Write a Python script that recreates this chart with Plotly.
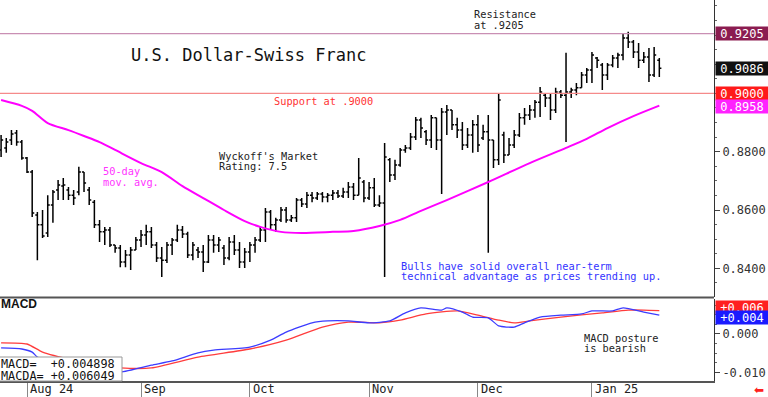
import math
import plotly.graph_objects as go

# ---------------- data ----------------
bar_index = list(range(128))  # trading days from late Jul 2024 to 20 Jan 2025

highs = [0.8857,0.8847,0.8874,0.8874,0.8840,0.8782,0.8737,0.8593,0.8600,0.8651,
         0.8669,0.8703,0.8710,0.8679,0.8669,0.8748,0.8730,0.8679,0.8634,0.8566,
         0.8542,0.8542,0.8480,0.8480,0.8463,0.8473,0.8507,0.8531,0.8549,0.8542,
         0.8490,0.8473,0.8490,0.8504,0.8549,0.8545,0.8525,0.8490,0.8473,0.8480,
         0.8514,0.8514,0.8507,0.8480,0.8507,0.8514,0.8490,0.8470,0.8490,0.8507,
         0.8542,0.8607,0.8600,0.8573,0.8610,0.8610,0.8583,0.8641,0.8641,0.8662,
         0.8662,0.8662,0.8662,0.8658,0.8669,0.8669,0.8676,0.8696,0.8693,0.8778,
         0.8703,0.8696,0.8710,0.8651,0.8830,0.8778,0.8772,0.8813,0.8823,0.8864,
         0.8919,0.8916,0.8874,0.8926,0.8916,0.8950,0.8960,0.8943,0.8916,0.8902,
         0.8881,0.8909,0.8926,0.8892,0.8926,0.8840,0.9001,0.8868,0.8847,0.8874,
         0.8933,0.8950,0.8960,0.8977,0.9022,0.9001,0.9001,0.9019,0.9012,0.9139,
         0.9019,0.9036,0.9073,0.9087,0.9142,0.9125,0.9104,0.9104,0.9132,0.9139,
         0.9207,0.9211,0.9183,0.9173,0.9142,0.9156,0.9159,0.9121]

lows = [0.8782,0.8796,0.8823,0.8820,0.8772,0.8727,0.8576,0.8428,0.8504,0.8507,
        0.8556,0.8634,0.8634,0.8634,0.8617,0.8651,0.8662,0.8617,0.8538,0.8490,
        0.8480,0.8473,0.8453,0.8404,0.8404,0.8394,0.8463,0.8473,0.8480,0.8470,
        0.8422,0.8370,0.8418,0.8446,0.8490,0.8504,0.8435,0.8428,0.8435,0.8387,
        0.8418,0.8453,0.8456,0.8411,0.8428,0.8446,0.8401,0.8401,0.8422,0.8453,
        0.8490,0.8490,0.8531,0.8525,0.8559,0.8556,0.8559,0.8559,0.8610,0.8607,
        0.8627,0.8634,0.8627,0.8627,0.8634,0.8641,0.8641,0.8641,0.8634,0.8651,
        0.8627,0.8634,0.8610,0.8610,0.8370,0.8696,0.8703,0.8748,0.8796,0.8806,
        0.8840,0.8847,0.8823,0.8813,0.8806,0.8655,0.8857,0.8874,0.8847,0.8806,
        0.8813,0.8796,0.8799,0.8840,0.8453,0.8744,0.8754,0.8761,0.8789,0.8813,
        0.8850,0.8892,0.8909,0.8916,0.8919,0.8953,0.8909,0.8933,0.8984,0.8833,
        0.8984,0.8994,0.9019,0.9036,0.9036,0.9087,0.9012,0.9046,0.9090,0.9087,
        0.9114,0.9156,0.9121,0.9087,0.9104,0.9039,0.9056,0.9056]

opens = [0.8806,0.8813,0.8840,0.8864,0.8833,0.8778,0.8730,0.8583,0.8549,0.8521,
         0.8617,0.8669,0.8682,0.8669,0.8651,0.8662,0.8730,0.8669,0.8627,0.8549,
         0.8525,0.8531,0.8480,0.8470,0.8422,0.8446,0.8463,0.8497,0.8514,0.8525,
         0.8480,0.8435,0.8428,0.8480,0.8497,0.8531,0.8518,0.8446,0.8463,0.8456,
         0.8422,0.8497,0.8480,0.8470,0.8435,0.8490,0.8463,0.8422,0.8456,0.8480,
         0.8497,0.8531,0.8593,0.8549,0.8566,0.8600,0.8566,0.8573,0.8634,0.8621,
         0.8651,0.8641,0.8655,0.8645,0.8651,0.8658,0.8648,0.8662,0.8679,0.8651,
         0.8696,0.8641,0.8676,0.8617,0.8624,0.8772,0.8720,0.8754,0.8806,0.8813,
         0.8850,0.8909,0.8868,0.8840,0.8916,0.8840,0.8936,0.8943,0.8892,0.8874,
         0.8823,0.8857,0.8892,0.8847,0.8868,0.8840,0.8772,0.8857,0.8789,0.8823,
         0.8857,0.8916,0.8926,0.8943,0.8970,0.8994,0.8984,0.8943,0.9005,0.8994,
         0.9005,0.9012,0.9019,0.9063,0.9080,0.9121,0.9097,0.9063,0.9097,0.9121,
         0.9132,0.9190,0.9176,0.9142,0.9114,0.9125,0.9063,0.9114]

closes = [0.8840,0.8833,0.8861,0.8833,0.8778,0.8730,0.8590,0.8549,0.8511,0.8617,
          0.8662,0.8686,0.8686,0.8651,0.8641,0.8730,0.8693,0.8634,0.8549,0.8525,
          0.8531,0.8480,0.8470,0.8422,0.8446,0.8463,0.8497,0.8514,0.8525,0.8480,
          0.8435,0.8428,0.8480,0.8497,0.8531,0.8518,0.8446,0.8480,0.8456,0.8422,
          0.8497,0.8480,0.8497,0.8435,0.8490,0.8463,0.8422,0.8456,0.8480,0.8497,
          0.8531,0.8593,0.8549,0.8566,0.8600,0.8566,0.8573,0.8634,0.8621,0.8651,
          0.8641,0.8655,0.8645,0.8651,0.8658,0.8648,0.8662,0.8679,0.8651,0.8710,
          0.8641,0.8676,0.8617,0.8624,0.8782,0.8720,0.8754,0.8806,0.8813,0.8850,
          0.8909,0.8881,0.8840,0.8916,0.8840,0.8936,0.8943,0.8892,0.8874,0.8823,
          0.8857,0.8892,0.8823,0.8868,0.8840,0.8772,0.8977,0.8789,0.8823,0.8857,
          0.8916,0.8926,0.8943,0.8970,0.9005,0.8984,0.8943,0.9005,0.8994,0.9005,
          0.9012,0.9019,0.9063,0.9080,0.9132,0.9114,0.9063,0.9097,0.9121,0.9132,
          0.9190,0.9176,0.9142,0.9114,0.9125,0.9063,0.9132,0.9086]

ma_index = [0, 4, 6, 9, 13, 16, 19, 22, 27, 31, 35, 39, 43, 47, 50, 54, 58, 64, 68,
            73, 77, 81, 86, 94, 102, 109, 113, 117, 122, 127]
ma_values = [0.8977, 0.8957, 0.8940, 0.8898, 0.8874, 0.8854, 0.8833, 0.8806, 0.8761,
             0.8730, 0.8682, 0.8641, 0.8600, 0.8562, 0.8542, 0.8525, 0.8521, 0.8525,
             0.8528, 0.8545, 0.8566, 0.8597, 0.8634, 0.8696, 0.8761, 0.8813, 0.8844,
             0.8881, 0.8922, 0.8958]

macd_index = [0, 4, 6, 7, 12, 18, 23, 29, 33, 38, 41, 48, 52, 55, 60, 63, 67, 71, 75,
              78, 81, 85, 86, 89, 91, 94, 96, 99, 101, 104, 108, 112, 114, 118, 120,
              124, 127]
macd_values = [-0.0036, -0.0039, -0.0047, -0.0060, -0.0081, -0.0096, -0.0099, -0.0081,
               -0.0070, -0.0049, -0.0042, -0.0034, -0.0016, 0.0005, 0.0029, 0.0034,
               0.0034, 0.0029, 0.0034, 0.0055, 0.0068, 0.0062, 0.0068, 0.0057, 0.0044,
               0.0042, 0.0021, 0.0018, 0.0029, 0.0044, 0.0049, 0.0052, 0.0060, 0.0060,
               0.0068, 0.0057, 0.004898]

macda_index = [0, 5, 8, 14, 20, 23, 29, 38, 48, 55, 62, 67, 73, 77, 82, 88, 92, 96, 99,
               102, 108, 116, 121, 124, 127]
macda_values = [-0.0023, -0.0026, -0.0047, -0.0068, -0.0083, -0.0088, -0.0088, -0.0060,
                -0.0039, -0.0016, 0.0018, 0.0031, 0.0029, 0.0036, 0.0052, 0.0060, 0.0049,
                0.0036, 0.0029, 0.0034, 0.0044, 0.0055, 0.0062, 0.0062, 0.006049]

month_index = [5, 27, 48, 71, 92, 114]
month_labels = ["Aug 24", "Sep", "Oct", "Nov", "Dec", "Jan 25"]

resistance_level = 0.9205
support_level = 0.9000
last_close = 0.9086
last_ma = 0.8958
last_macd = 0.004898
last_macda = 0.006049

price_ticks = [0.84, 0.86, 0.88]
price_tick_text = ["0.8400", "0.8600", "0.8800"]
macd_ticks = [0.0, -0.01]
macd_tick_text = ["0.000", "-0.010"]

# ---------------- figure ----------------
MONO = "DejaVu Sans Mono"
W, H = 768, 397
ML, MR, MT, MB = 0, 54, 0, 16
PW, PH = W - ML - MR, H - MT - MB


def px(x):
    return x / PW


def py(y):
    return (PH - y) / PH


def trunc3(v):
    return math.floor(v * 1000) / 1000


fig = go.Figure()

fig.add_trace(go.Ohlc(
    x=bar_index, open=opens, high=highs, low=lows, close=closes,
    increasing=dict(line=dict(color="black", width=1.5)),
    decreasing=dict(line=dict(color="black", width=1.5)),
    tickwidth=0.4, xaxis="x", yaxis="y", showlegend=False, hoverinfo="skip"))

fig.add_trace(go.Scatter(
    x=ma_index, y=ma_values, mode="lines",
    line=dict(color="#ff00ff", width=2, shape="spline", smoothing=0.8),
    xaxis="x", yaxis="y", showlegend=False, hoverinfo="skip"))

fig.add_trace(go.Scatter(
    x=macda_index, y=macda_values, mode="lines",
    line=dict(color="#ff3c3c", width=1.3, shape="spline", smoothing=0.6),
    xaxis="x2", yaxis="y2", showlegend=False, hoverinfo="skip"))

fig.add_trace(go.Scatter(
    x=macd_index, y=macd_values, mode="lines",
    line=dict(color="#3c3cff", width=1.3, shape="spline", smoothing=0.6),
    xaxis="x2", yaxis="y2", showlegend=False, hoverinfo="skip"))

xr = [-0.21, 137.55]
main_dom = [py(297), 1]
macd_dom = [0, py(299)]

fig.update_layout(
    width=W, height=H,
    margin=dict(l=ML, r=MR, t=MT, b=MB),
    paper_bgcolor="white", plot_bgcolor="white",
    showlegend=False,
    xaxis=dict(domain=[0, 1], range=xr, anchor="y", showticklabels=False, ticks="",
               showgrid=False, zeroline=False, showline=False,
               rangeslider=dict(visible=False), automargin=False),
    yaxis=dict(domain=main_dom, range=[0.83016, 0.93203], side="right", anchor="x",
               tickvals=price_ticks, ticktext=price_tick_text, ticks="outside",
               ticklen=5, tickcolor="#444", showline=True, linecolor="#333",
               linewidth=1, showgrid=False, zeroline=False, automargin=False,
               tickfont=dict(family=MONO, size=12, color="#333"),
               minor=dict(dtick=0.005, ticks="outside", ticklen=2, tickcolor="#666")),
    xaxis2=dict(domain=[0, 1], range=xr, anchor="y2", matches="x",
                tickvals=month_index, ticks="outside", ticklen=16, tickcolor="#888",
                showticklabels=False, showgrid=False, zeroline=False,
                showline=True, linecolor="#555", linewidth=1.5, automargin=False),
    yaxis2=dict(domain=macd_dom, range=[-0.01221, 0.00909], side="right", anchor="x2",
                tickvals=macd_ticks, ticktext=macd_tick_text, ticks="outside",
                ticklen=5, tickcolor="#444", showline=True, linecolor="#333",
                linewidth=1, showgrid=False, zeroline=False, automargin=False,
                tickfont=dict(family=MONO, size=12, color="#333"),
                minor=dict(dtick=0.0025, ticks="outside", ticklen=2, tickcolor="#666")),
)

# price level lines
fig.add_shape(type="line", xref="paper", x0=0, x1=1, yref="y",
              y0=resistance_level, y1=resistance_level,
              line=dict(color="#c98fb4", width=1.2))
fig.add_shape(type="line", xref="paper", x0=0, x1=1, yref="y",
              y0=support_level, y1=support_level,
              line=dict(color="#f58a8a", width=1.2))
# panel separator
fig.add_shape(type="line", xref="paper", x0=0, x1=1, yref="paper",
              y0=py(297.5), y1=py(297.5), line=dict(color="#555", width=2))
# MACD value box
fig.add_shape(type="rect", xref="paper", yref="paper",
              x0=px(-3), x1=px(122), y0=py(381), y1=py(357),
              fillcolor="white", line=dict(color="#999", width=1), layer="above")

ann = []


def text_line(txt, x, y, color="#222", size=10.3, family=MONO, **kw):
    ann.append(dict(text=txt, xref="paper", yref="paper", x=px(x), y=py(y),
                    xanchor="left", yanchor="middle", showarrow=False,
                    font=dict(family=family, size=size, color=color), **kw))


text_line("U.S. Dollar-Swiss Franc", 129, 55, color="#111", size=17)
text_line("Resistance", 472, 14)
text_line("at .9205", 472, 24.5)
text_line("Support at .9000", 272, 101, color="#ff3333")
text_line("Wyckoff's Market", 217, 156)
text_line("Rating: 7.5", 217, 166)
text_line("50-day", 101, 171, color="#ff33ff")
text_line("mov. avg.", 101, 182, color="#ff33ff")
text_line("Bulls have solid overall near-term", 399, 266, color="#3333ff")
text_line("technical advantage as prices trending up.", 399, 276, color="#3333ff")
text_line("MACD posture", 582, 337.5)
text_line("is bearish", 582, 348)
text_line("<b>MACD</b>", -1, 304, color="#111", size=12, family="Liberation Sans")
text_line(f"MACD=  +{last_macd:.6f}", -1, 363.5, color="#111", size=11.8)
text_line(f"MACDA= +{last_macda:.6f}", -1, 375.5, color="#111", size=11.8)

# month labels
for mi, ml in zip(month_index, month_labels):
    ann.append(dict(text=ml, xref="x2", yref="paper", x=mi, y=py(389),
                    xanchor="left", yanchor="middle", xshift=1, showarrow=False,
                    font=dict(family=MONO, size=12, color="#222")))


def axis_box(val, label, bg, yref="y", yshift=0):
    ann.append(dict(text=label, xref="paper", yref=yref, x=1, y=val,
                    xanchor="left", yanchor="middle", xshift=1, yshift=yshift,
                    showarrow=False, width=52, height=13, align="center",
                    bgcolor=bg, borderpad=0,
                    font=dict(family=MONO, size=12, color="white")))


axis_box(resistance_level, f"{resistance_level:.4f}", "#8b1c50")
axis_box(last_close, f"{last_close:.4f}", "#111111")
axis_box(support_level, f"{support_level:.4f}", "#ff1a1a")
axis_box(last_ma, f"{last_ma:.4f}", "#ff22ff", yshift=-1)
axis_box(last_macda, f"+{trunc3(last_macda):.3f}", "#ff2020", yref="y2", yshift=3)
axis_box(last_macd, f"+{trunc3(last_macd):.3f}", "#1a1aff", yref="y2", yshift=-2)

# small red arrow at bottom right
ann.append(dict(text="⬅", xref="paper", yref="paper", x=1, y=py(390),
                xanchor="left", yanchor="middle", xshift=38, showarrow=False,
                font=dict(family="DejaVu Sans", size=12, color="#ff2020")))

fig.update_layout(annotations=ann)

fig.write_html("out.html", config={"displayModeBar": False},
               post_script="document.body.style.margin='0';"
                           "document.body.style.overflow='hidden';")
